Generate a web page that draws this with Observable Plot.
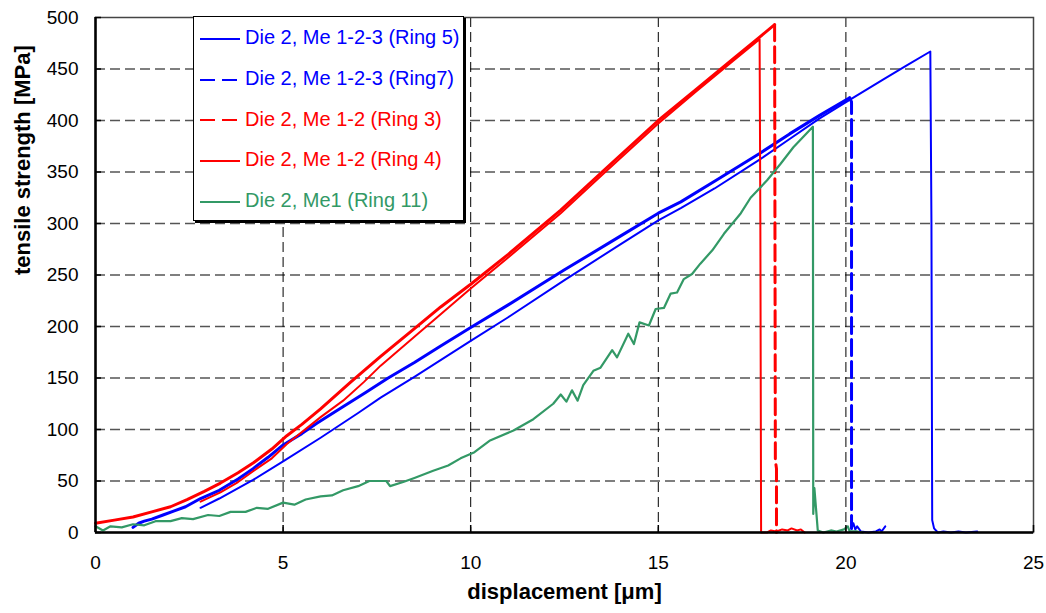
<!DOCTYPE html>
<html>
<head>
<meta charset="utf-8">
<script src="https://cdn.jsdelivr.net/npm/d3@7"></script>
<script src="https://cdn.jsdelivr.net/npm/@observablehq/plot@0.6"></script>
<style>
  html, body { margin: 0; padding: 0; background: #fff; }
  #wrap { position: relative; width: 1046px; height: 613px; font-family: "Liberation Sans", Arial, sans-serif; }
  #legend { position: absolute; left: 193px; top: 16px; width: 271px; height: 205px; background: #fff;
            border: 1px solid #000; box-shadow: 2px 2px 0 #000; box-sizing: border-box; }
  .row { position: absolute; left: 6px; height: 24px; line-height: 24px; font-size: 20px; white-space: nowrap; }
  .row svg { vertical-align: middle; margin-right: 5px; }
</style>
</head>
<body>
<div id="wrap"><div id="legend"></div></div>
<script>
// ---- tick / grid values ----
const xTicks = [0, 5, 10, 15, 20, 25];
const yTicks = [0, 50, 100, 150, 200, 250, 300, 350, 400, 450, 500];
const xGrid = [5, 10, 15, 20];
const yGrid = [50, 100, 150, 200, 250, 300, 350, 400, 450];

// ---- series names / colors ----
const seriesNames = ["Die 2, Me 1-2-3 (Ring 5)", "Die 2, Me 1-2-3 (Ring7)", "Die 2, Me 1-2 (Ring 3)", "Die 2, Me 1-2 (Ring 4)", "Die 2, Me1 (Ring 11)"];
const seriesColors = ["#0000ff", "#0000ff", "#ff0000", "#ff0000", "#339966"];
const seriesDashed = [false, true, true, false, false];

// ---- Ring 5 (solid blue) ----
const ring5 = [[2.8,24],[3.3,33],[4.2,51],[5,69],[6,92],[7,116],[7.6,131],[8.5,151],[10,186],[11,209],[12.5,245],[14,280],[15,303],[15.6,315],[16.5,334],[17.7,362],[18.5,382],[19.3,402],[20.1,420],[21,440],[21.6,453],[22.25,467],[22.28,300],[22.3,12],[22.35,4],[22.45,0],[22.6,1],[22.8,0],[23.0,1],[23.2,0],[23.5,1]];

// ---- Ring 7 (dashed blue) ----
const ring7Rise = [[1,5],[1.15,9],[1.3,11],[1.5,13],[1.8,17],[2.1,21],[2.4,25],[2.8,33],[3.3,41],[3.8,52],[4.2,62],[4.6,73],[5,85],[5.5,96],[5.9,106],[6.5,120],[7.2,136],[7.8,150],[8.5,165],[9.2,181],[10,199],[11,221],[12.5,255],[14,288],[15,310],[15.6,321],[16.5,341],[17.7,368],[18.5,387],[19.3,405],[20.1,422]];
const ring7Drop = [[20.1,422],[20.15,418],[20.15,4]];
const ring7Tail = [[20.15,4],[20.2,9],[20.25,3],[20.3,6],[20.4,1],[20.6,0],[20.8,1],[20.9,3],[20.95,1],[21.05,6]];

// ---- Ring 3 (dashed red) ----
const ring3Rise = [[0,9],[0.5,12],[1,15],[1.5,20],[2,25],[2.44,32],[2.9,40],[3.33,48],[3.8,58],[4.22,68],[4.7,81],[5.1,94],[5.5,105],[6,120],[6.8,146],[7.6,171],[8.5,198],[9.2,219],[10,241],[11,270],[12.4,313],[13.5,350],[15,400],[16,430],[17,460],[17.7,481],[18.1,493]];
const ring3Drop = [[18.1,493],[18.12,70],[18.15,62],[18.15,0]];

// ---- Ring 4 (solid red) ----
const ring4 = [[2.8,30],[3.33,39],[3.8,49],[4.22,60],[4.7,72],[5.1,86],[6,112],[6.6,128],[7.15,146],[7.6,162],[8.5,190],[9.2,212],[10,237],[11,267],[12.4,310],[13.5,347],[15,397],[16,428],[17,458],[17.7,479],[17.72,300],[17.74,0],[17.9,0],[18.0,2],[18.15,1],[18.3,3],[18.45,2],[18.55,4],[18.7,2],[18.8,3],[18.9,0]];

// ---- Ring 11 (green) ----
const ring11 = [[0,6],[0.2,2],[0.4,6],[0.7,5],[1,8],[1.3,7],[1.6,11],[2,11],[2.3,14],[2.6,13],[3,17],[3.3,16],[3.6,20],[4,20],[4.3,24],[4.6,23],[5,29],[5.3,27],[5.6,32],[6,35],[6.3,36],[6.6,41],[7,45],[7.3,50],[7.75,50],[7.85,45],[8.2,49],[8.5,53],[9,60],[9.4,65],[9.73,72],[10.1,78],[10.5,89],[11.14,99],[11.67,110],[12.2,125],[12.4,134],[12.55,127],[12.7,138],[12.85,128],[13.0,143],[13.27,157],[13.46,160],[13.77,177],[13.9,170],[14.2,193],[14.35,183],[14.5,204],[14.75,201],[14.93,217],[15.15,218],[15.33,232],[15.5,233],[15.68,246],[15.9,251],[16.12,261],[16.44,274],[16.75,290],[17.2,310],[17.46,325],[17.9,342],[18.26,358],[18.6,374],[19.12,394],[19.13,18],[19.16,43],[19.2,25],[19.25,2],[19.4,0],[19.6,2],[19.75,1],[19.95,3],[20.05,6],[20.1,1],[20.3,1],[20.45,0]];

const X = d => d[0], Y = d => d[1];
const ln = (data, color, w, dash) => Plot.line(data, {x: X, y: Y, stroke: color, strokeWidth: w, strokeDasharray: dash, strokeLinejoin: "round"});

const chart = Plot.plot({
  width: 1046, height: 613,
  marginLeft: 95, marginRight: 13, marginTop: 17, marginBottom: 81,
  x: {domain: [0, 25]},
  y: {domain: [0, 500]},
  style: {fontFamily: "'Liberation Sans', Arial, sans-serif", fontSize: "19px", color: "#000", background: "#fff", overflow: "visible"},
  marks: [
    Plot.ruleY(yGrid, {stroke: "#555", strokeWidth: 1.4, strokeDasharray: "10,5"}),
    Plot.ruleX(xGrid, {stroke: "#000", strokeWidth: 1, strokeDasharray: "10,5"}),
    ln(ring5, seriesColors[0], 2),
    ln(ring7Rise, seriesColors[1], 3),
    ln(ring7Drop, seriesColors[1], 3, "16,6"),
    ln(ring7Tail, seriesColors[1], 2),
    ln(ring3Rise, seriesColors[2], 3),
    ln(ring3Drop, seriesColors[2], 3, "16,6"),
    ln(ring4, seriesColors[3], 2),
    ln(ring11, seriesColors[4], 2.2),
    Plot.frame({stroke: "#444", strokeWidth: 1.5}),
    Plot.ruleX([0], {stroke: "#000", strokeWidth: 2.5}),
    Plot.ruleY([0], {stroke: "#000", strokeWidth: 2.5}),
    Plot.ruleX(xTicks, {stroke: "#000", strokeWidth: 1.5, insetTop: 508}),
    Plot.ruleY(yTicks, {stroke: "#000", strokeWidth: 1.5, insetRight: 932}),
    Plot.axisX({ticks: xTicks, tickSize: 0, tickPadding: 23, fontSize: 19, label: null}),
    Plot.axisY({ticks: yTicks, tickSize: 0, tickPadding: 17, fontSize: 19, label: null}),
    Plot.text(["displacement [μm]"], {text: d => d, frameAnchor: "bottom", dy: 66, fontWeight: "bold", fontSize: 22}),
    Plot.text(["tensile strength [MPa]"], {text: d => d, frameAnchor: "left", dx: -73, rotate: -90, fontWeight: "bold", fontSize: 22})
  ]
});
document.getElementById("wrap").prepend(chart);

// ---- legend ----
const legend = document.getElementById("legend");
seriesNames.forEach((name, i) => {
  const row = document.createElement("div");
  row.className = "row";
  row.style.top = (8 + i * 40.8) + "px";
  row.style.color = seriesColors[i];
  const dash = seriesDashed[i] ? 'stroke-dasharray="15,7"' : "";
  row.innerHTML = `<svg width="40" height="6"><line x1="0" y1="3" x2="40" y2="3" stroke="${seriesColors[i]}" stroke-width="2" ${dash}/></svg>${name}`;
  legend.appendChild(row);
});
</script>
</body>
</html>
